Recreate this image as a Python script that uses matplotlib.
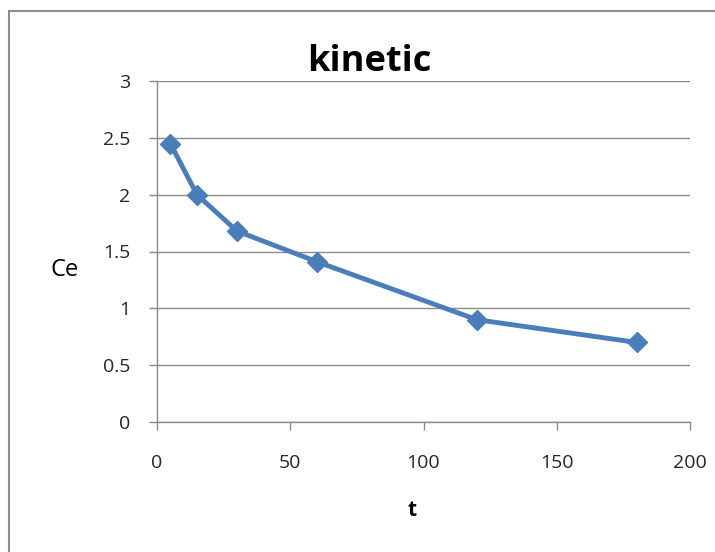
import matplotlib
matplotlib.use("Agg")
import matplotlib.pyplot as plt
from matplotlib.patches import Rectangle

t = [5, 15, 30, 60, 120, 180]
ce = [2.45, 2.0, 1.68, 1.41, 0.9, 0.7]
xticks = [0, 50, 100, 150, 200]
yticks = [0, 0.5, 1, 1.5, 2, 2.5, 3]
ytick_labels = ["0", "0.5", "1", "1.5", "2", "2.5", "3"]

plt.rcParams['font.family'] = ['Open Sans', 'DejaVu Sans']

W, H = 715, 552
fig = plt.figure(figsize=(W/100, H/100), dpi=100)
fig.patches.append(Rectangle((9/W, -0.1), 1.2, 1.1 - 11/H + 0.0, transform=fig.transFigure,
                             fill=False, edgecolor='#8c8c8c', linewidth=1.5))

ax = fig.add_axes([157/W, 1-422/H, (690-157)/W, (422-81)/H])
ax.plot(t, ce, color='#4a7ebb', linewidth=3.5, marker='D', markersize=10,
        markerfacecolor='#4a7ebb', markeredgecolor='#4a7ebb', clip_on=False, zorder=3)
ax.set_xlim(0, 200)
ax.set_ylim(0, 3)
ax.set_xticks(xticks)
ax.set_yticks(yticks)
ax.set_yticklabels(ytick_labels)
ax.grid(axis='y', color='#8a8a8a', linewidth=1)
ax.set_axisbelow(True)
for s in ['top', 'right']:
    ax.spines[s].set_visible(False)
for s in ['left', 'bottom']:
    ax.spines[s].set_color('#8a8a8a')
    ax.spines[s].set_linewidth(1)
ax.tick_params(axis='both', direction='out', length=6, width=1, color='#8a8a8a',
               labelsize=14, labelcolor='#262626')
ax.tick_params(axis='y', pad=13)
ax.tick_params(axis='x', pad=17)

fig.text(369/W, 1-62/H, 'kinetic', ha='center', va='center', fontsize=26, fontweight='bold')
fig.text(65/W, 1-270/H, 'Ce', ha='center', va='center', fontsize=17)
fig.text(412/W, 1-511/H, 't', ha='center', va='center', fontsize=15, fontweight='bold')

fig.savefig('out.png', dpi=100)
